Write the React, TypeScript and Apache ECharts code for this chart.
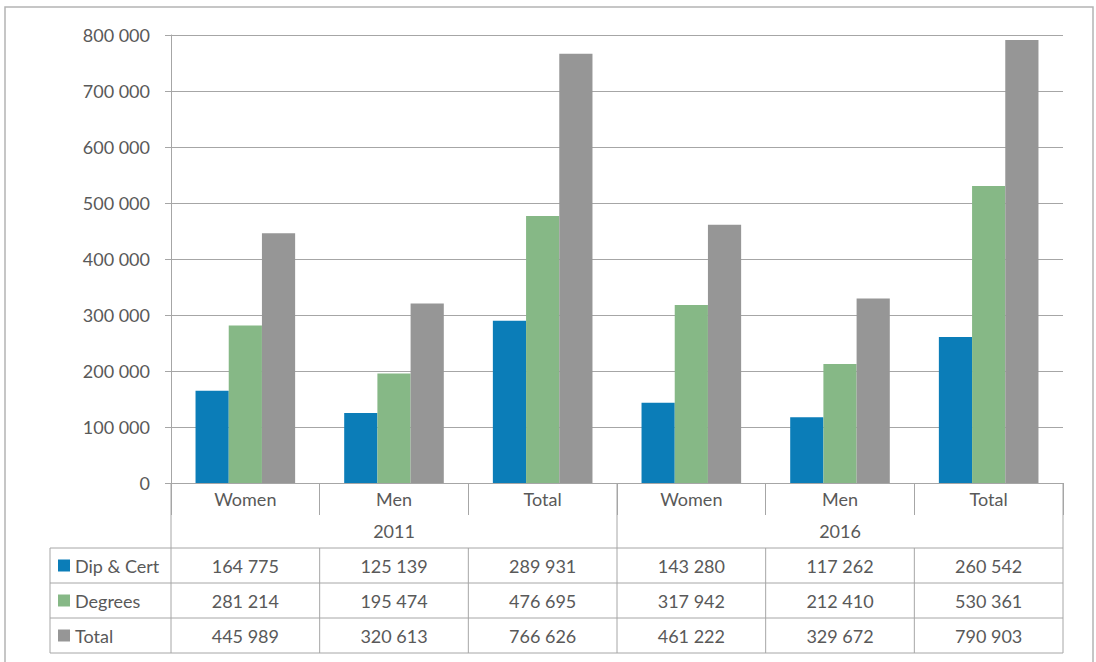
import React, { useEffect, useRef } from "react";
import * as echarts from "echarts";

const categories = ["Women", "Men", "Total", "Women", "Men", "Total"];
const years = ["2011", "2016"];
const seriesNames = ["Dip & Cert", "Degrees", "Total"];
const dipCert = [164775, 125139, 289931, 143280, 117262, 260542];
const degrees = [281214, 195474, 476695, 317942, 212410, 530361];
const totals = [445989, 320613, 766626, 461222, 329672, 790903];
const yTicks = { min: 0, max: 800000, interval: 100000 };

const COLORS = ["#0B7DB8", "#86B886", "#969696"];
const TEXT = "#595959";
const LINE = "#a6a6a6";
const FONT = "Lato";

const W = 1096;
const H = 662;
const GL = 171;
const GR = 1063;
const GT = 35;
const GB = 483;

const fmt = (v: number) => String(v).replace(/\B(?=(\d{3})+(?!\d))/g, " ");

export default function App() {
  const ref = useRef<HTMLDivElement>(null);
  useEffect(() => {
    if (!ref.current) return;
    const chart = echarts.init(ref.current, undefined, { renderer: "svg" });
    const catW = (GR - GL) / categories.length;
    const rowTop = 548;
    const rowH = 35;
    const tableLeft = 50;
    const rows = [dipCert, degrees, totals];
    const g: any[] = [];
    const ln = (x1: number, y1: number, x2: number, y2: number) =>
      g.push({ type: "line", shape: { x1, y1, x2, y2 }, style: { stroke: LINE, lineWidth: 1 }, silent: true });
    // outer border
    g.push({ type: "rect", shape: { x: 5, y: 7, width: 1088, height: 700 }, style: { fill: "none", stroke: "#b4b4b4", lineWidth: 1.5 }, silent: true });
    // table horizontal lines
    for (let r = 0; r <= rows.length; r++) ln(tableLeft, rowTop + r * rowH, GR, rowTop + r * rowH);
    ln(tableLeft, rowTop, tableLeft, rowTop + rows.length * rowH);
    ln(GL, GB, GL, rowTop + rows.length * rowH);
    ln(GR, GB, GR, rowTop + rows.length * rowH);
    for (let i = 1; i < categories.length; i++) {
      const x = GL + catW * i;
      if (i === 3) ln(x, GB, x, rowTop + rows.length * rowH);
      else ln(x, rowTop, x, rowTop + rows.length * rowH);
    }
    rows.forEach((vals, r) => {
      const cy = rowTop + r * rowH + rowH / 2;
      g.push({ type: "rect", shape: { x: 58, y: cy - 6, width: 12, height: 12 }, style: { fill: COLORS[r] }, silent: true });
      g.push({ type: "text", x: 75, y: cy, style: { text: seriesNames[r], fill: TEXT, font: `18px ${FONT}`, verticalAlign: "middle", align: "left" }, silent: true });
      vals.forEach((v, i) => {
        g.push({ type: "text", x: GL + catW * (i + 0.5), y: cy, style: { text: fmt(v), fill: TEXT, font: `18px ${FONT}`, verticalAlign: "middle", align: "center" }, silent: true });
      });
    });

    chart.setOption({
      animation: false,
      backgroundColor: "#fff",
      textStyle: { fontFamily: FONT },
      grid: { left: GL, right: W - GR, top: GT, bottom: H - GB, containLabel: false },
      xAxis: [
        {
          type: "category",
          data: categories,
          position: "bottom",
          axisLine: { show: true, lineStyle: { color: LINE } },
          axisTick: { show: true, length: 32, lineStyle: { color: LINE } },
          axisLabel: { color: TEXT, fontSize: 18, fontFamily: FONT, margin: 7, interval: 0 },
        },
        {
          type: "category",
          data: years,
          position: "bottom",
          offset: 33,
          axisLine: { show: false },
          axisTick: { show: false },
          axisLabel: { color: TEXT, fontSize: 18, fontFamily: FONT, margin: 6 },
        },
      ],
      yAxis: {
        type: "value",
        min: yTicks.min,
        max: yTicks.max,
        interval: yTicks.interval,
        axisLine: { show: true, lineStyle: { color: LINE } },
        axisTick: { show: true, length: 6, lineStyle: { color: LINE } },
        axisLabel: { color: TEXT, fontSize: 18, fontFamily: FONT, margin: 21, formatter: (v: number) => fmt(v) },
        splitLine: { show: true, lineStyle: { color: LINE, width: 1 } },
      },
      series: [dipCert, degrees, totals].map((d, i) => ({
        name: seriesNames[i],
        type: "bar",
        xAxisIndex: 0,
        data: d,
        barGap: "0%",
        barCategoryGap: "33%",
        itemStyle: { color: COLORS[i] },
      })),
      graphic: g,
    });
    return () => chart.dispose();
  }, []);
  return <div ref={ref} style={{ position: "fixed", left: 0, top: 0, width: W, height: H }} />;
}
